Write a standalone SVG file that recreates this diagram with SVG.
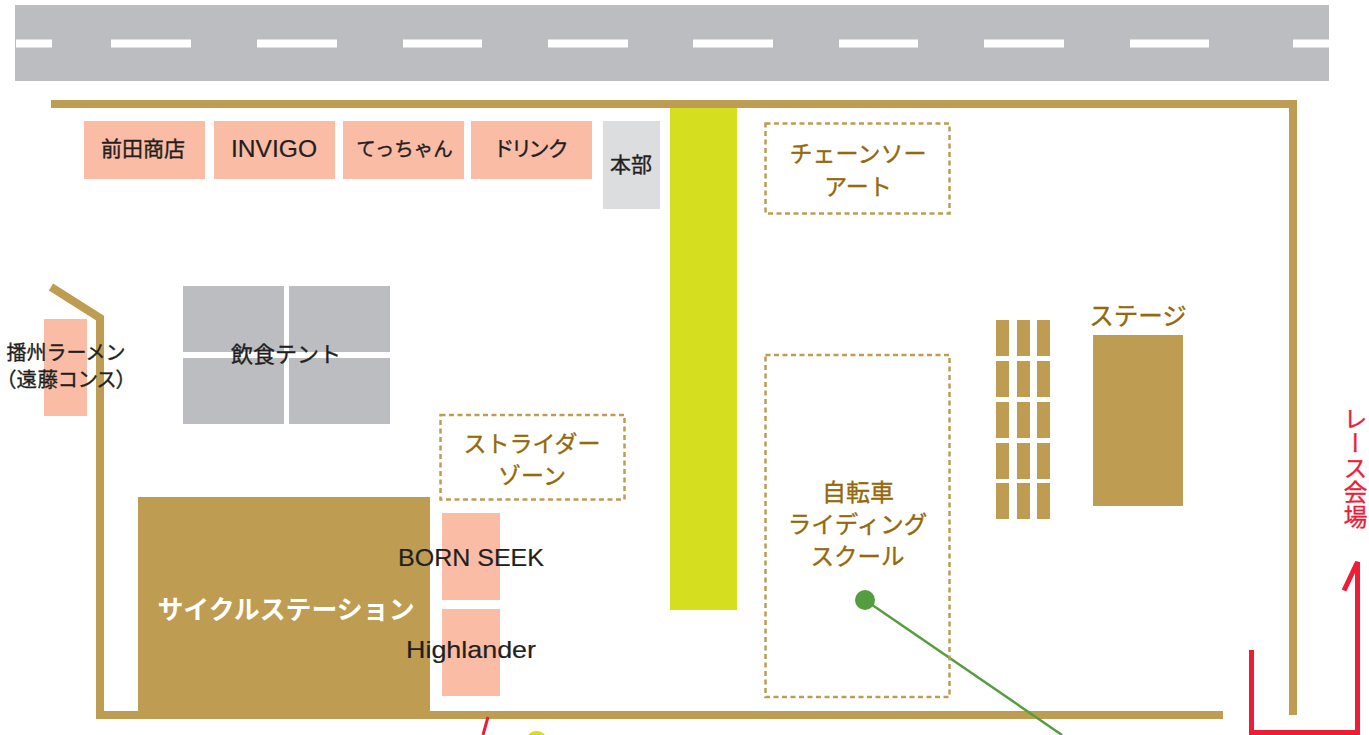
<svg xmlns="http://www.w3.org/2000/svg" width="1369" height="735" viewBox="0 0 1369 735">
<style>
text{font-family:"Noto Sans CJK JP","Liberation Sans",sans-serif;text-anchor:middle}
.road{fill:#bcbdc0}.dash{fill:#fff}.gold{fill:#be9c52}.shop{fill:#fbbca6}
.wall{fill:none;stroke:#be9c52;stroke-width:8}
.zone{fill:none;stroke:#be9c52;stroke-width:2.500;stroke-dasharray:5 3.500}
.red{fill:none;stroke:#ee1c37;stroke-width:5}
.lb{font-size:21px;fill:#231f20;stroke:#231f20;stroke-width:.35}
.lat{font-family:"Liberation Sans",sans-serif;font-size:24px;stroke-width:.2}
.ramen{font-family:"Liberation Sans","Noto Sans CJK JP",sans-serif}
.lz{font-size:23px;fill:#94690a;stroke:#94690a;stroke-width:.35}
.race{font-family:"Liberation Sans","Noto Sans CJK JP",sans-serif;font-size:24px;letter-spacing:.5px;fill:#ee1c37;stroke:#ee1c37;stroke-width:.3;writing-mode:vertical-rl;text-anchor:start}
</style>
<g id="road">
<rect class="road" x="15" y="5" width="1314" height="76"/>
<g class="dash">
<rect x="16" y="39.500" width="36" height="8"/><rect x="111" y="39.500" width="80" height="8"/><rect x="257" y="39.500" width="80" height="8"/><rect x="403" y="39.500" width="79" height="8"/><rect x="548" y="39.500" width="80" height="8"/><rect x="693" y="39.500" width="80" height="8"/><rect x="839" y="39.500" width="79" height="8"/><rect x="984" y="39.500" width="80" height="8"/><rect x="1130" y="39.500" width="79" height="8"/><rect x="1293" y="39.500" width="36" height="8"/>
</g>
</g>
<g id="shop-ramen"><rect class="shop" x="44" y="319" width="43" height="97"/></g>
<g id="connectors">
<path class="wall" d="M51 104H1293V715"/>
<path class="wall" d="M1223 715H100V318L51 287"/>
<path class="red" d="M1251.500 650V732.500H1357.500V562L1344 590.500"/>
<path class="red" style="stroke-width:3" d="M488 717L483 735"/>
<path d="M865 600L1062 735" fill="none" stroke="#559e3f" stroke-width="2.500"/>
</g>
<g id="shop-maeda"><rect class="shop" x="84" y="121" width="121" height="58"/><text class="lb" x="143" y="156">前田商店</text></g>
<g id="shop-invigo"><rect class="shop" x="214" y="121" width="121" height="58"/><text class="lb lat" x="274" y="157" textLength="86" lengthAdjust="spacingAndGlyphs">INVIGO</text></g>
<g id="shop-tetchan"><rect class="shop" x="343" y="121" width="121" height="58"/><text class="lb" x="404.500" y="156" style="font-size:19.500px">てっちゃん</text></g>
<g id="shop-drink"><rect class="shop" x="471" y="121" width="121" height="58"/><text class="lb" x="531.500" y="156" style="font-size:21px;font-feature-settings:'palt'">ドリンク</text></g>
<g id="honbu"><rect x="603" y="121" width="57" height="88" fill="#dcddde"/><text class="lb" x="631" y="172">本部</text></g>
<g id="green-strip"><rect x="670" y="108" width="67" height="502" fill="#d5df1f"/></g>
<g id="chainsaw"><rect class="zone" x="765.500" y="123.500" width="184" height="90"/><text class="lz" x="858" y="162">チェーンソー</text><text class="lz" x="858" y="195">アート</text></g>
<g id="food-tent">
<rect class="road" x="183" y="286" width="101" height="66"/><rect class="road" x="289" y="286" width="101" height="66"/><rect class="road" x="183" y="358" width="101" height="66"/><rect class="road" x="289" y="358" width="101" height="66"/>
<text class="lb" x="286" y="361.500" style="font-size:22px">飲食テント</text></g>
<g id="ramen-label"><text class="lb ramen" x="66" y="360" style="font-size:20px">播州ラーメン</text><text class="lb ramen" x="66" y="387" textLength="121" lengthAdjust="spacing" style="font-size:20.500px;font-feature-settings:'palt'">（遠藤コンス）</text></g>
<g id="strider"><rect class="zone" x="440.500" y="415" width="184" height="84.500"/><text class="lz" x="532" y="452">ストライダー</text><text class="lz" x="532" y="484">ゾーン</text></g>
<g id="cycle-station"><rect class="gold" x="138" y="497" width="292" height="222"/><text x="286" y="619" style="font-size:25.900px;font-weight:700;fill:#fff">サイクルステーション</text></g>
<g id="born-seek"><rect class="shop" x="442" y="513" width="58" height="87"/><text class="lb lat" x="471" y="566" textLength="146" lengthAdjust="spacingAndGlyphs">BORN SEEK</text></g>
<g id="highlander"><rect class="shop" x="442" y="609" width="58" height="87"/><text class="lb lat" x="471" y="658" textLength="130" lengthAdjust="spacingAndGlyphs">Highlander</text></g>
<g id="riding-school"><rect class="zone" x="765.500" y="355" width="184" height="342"/><text class="lz" x="858" y="501" style="font-size:24px">自転車</text><text class="lz" x="857.500" y="533" style="font-size:23.500px">ライディング</text><text class="lz" x="857.500" y="565" style="font-size:23.500px">スクール</text><circle cx="865" cy="600" r="10" fill="#559e3f"/></g>
<g id="seats" class="gold">
<rect x="996" y="320" width="13" height="36"/><rect x="1017" y="320" width="13" height="36"/><rect x="1037" y="320" width="13" height="36"/>
<rect x="996" y="361" width="13" height="36"/><rect x="1017" y="361" width="13" height="36"/><rect x="1037" y="361" width="13" height="36"/>
<rect x="996" y="402" width="13" height="36"/><rect x="1017" y="402" width="13" height="36"/><rect x="1037" y="402" width="13" height="36"/>
<rect x="996" y="443" width="13" height="36"/><rect x="1017" y="443" width="13" height="36"/><rect x="1037" y="443" width="13" height="36"/>
<rect x="996" y="483" width="13" height="36"/><rect x="1017" y="483" width="13" height="36"/><rect x="1037" y="483" width="13" height="36"/>
</g>
<g id="stage"><rect class="gold" x="1093" y="335" width="90" height="171"/><text class="lz" x="1138" y="325" style="font-size:24.500px">ステージ</text></g>
<g id="race-label"><text class="race" x="1353.500" y="406.500">レース会場</text></g>
<g id="yellow-marker"><circle cx="536.500" cy="742" r="11" fill="#d5df1f"/></g>
</svg>
